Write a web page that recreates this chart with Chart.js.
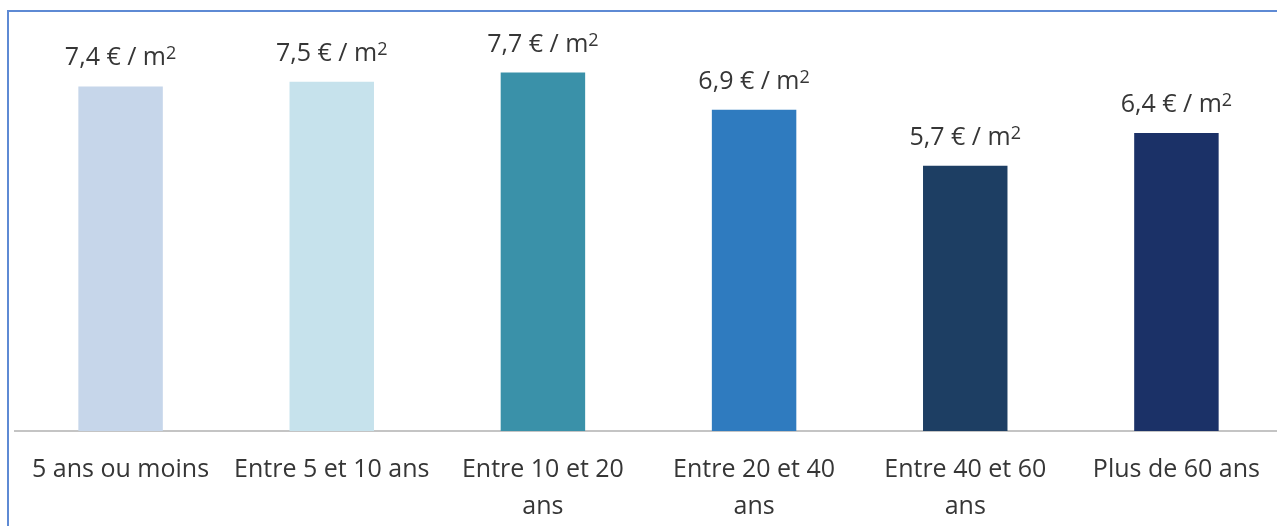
<!DOCTYPE html>
<html lang="fr">
<head>
<meta charset="utf-8">
<script src="https://cdn.jsdelivr.net/npm/chart.js@4"></script>
<style>
    html, body { margin: 0; padding: 0; background: #fff; overflow: hidden; }
    #frame {
        position: absolute;
        left: 7px;
        top: 10px;
        width: 1300px;
        height: 560px;
        border-left: 2px solid #5e8ad4;
        border-top: 2px solid #5e8ad4;
    }
    #wrap {
        position: absolute;
        left: 0;
        top: 0;
        width: 1290px;
        height: 549px;
    }
</style>
</head>
<body>
<div id="frame"></div>
<div id="wrap"><canvas id="graph"></canvas></div>
<script>
// Loyer moyen au m² selon l'ancienneté du bail
const categories = [
    '5 ans ou moins',
    'Entre 5 et 10 ans',
    ['Entre 10 et 20', 'ans'],
    ['Entre 20 et 40', 'ans'],
    ['Entre 40 et 60', 'ans'],
    'Plus de 60 ans'
];
const loyers = [7.4, 7.5, 7.7, 6.9, 5.7, 6.4];
const barColors = ['#c6d6ea', '#c6e2ec', '#3a91a9', '#2f7bbf', '#1d3e63', '#1b3167'];

const fontFamily = '"Open Sans", Lato, sans-serif';
const labelSize = 25;

// écrit "x,x € / m2" au-dessus de chaque barre, le 2 en exposant
const valueLabels = {
    id: 'valueLabels',
    afterDatasetsDraw(chart) {
        const ctx = chart.ctx;
        const meta = chart.getDatasetMeta(0);
        const supSize = Math.round(labelSize * 0.7);
        ctx.save();
        ctx.fillStyle = '#363636';
        ctx.textBaseline = 'alphabetic';
        ctx.textAlign = 'left';
        meta.data.forEach(function(bar, i) {
            const main = loyers[i].toFixed(1).replace('.', ',') + ' € / m';
            ctx.font = labelSize + 'px ' + fontFamily;
            const w1 = ctx.measureText(main).width;
            ctx.font = supSize + 'px ' + fontFamily;
            const w2 = ctx.measureText('2').width;
            const x0 = bar.x - (w1 + w2) / 2;
            const y0 = bar.y - 21;
            ctx.font = labelSize + 'px ' + fontFamily;
            ctx.fillText(main, x0, y0);
            ctx.font = supSize + 'px ' + fontFamily;
            ctx.fillText('2', x0 + w1, y0 - 6);
        });
        ctx.restore();
    }
};

const ctx = document.getElementById('graph').getContext('2d');
new Chart(ctx, {
    type: 'bar',
    data: {
        labels: categories,
        datasets: [{
            data: loyers,
            backgroundColor: barColors,
            borderWidth: 0,
            barPercentage: 0.4,
            categoryPercentage: 1
        }]
    },
    options: {
        responsive: true,
        maintainAspectRatio: false,
        animation: false,
        layout: {
            padding: { left: 15, right: 8, top: 12, bottom: 4 }
        },
        plugins: {
            legend: { display: false },
            tooltip: { enabled: false }
        },
        scales: {
            x: {
                grid: { display: false, drawTicks: false },
                border: { display: true, color: '#c4c4c4', width: 2 },
                ticks: {
                    color: '#363636',
                    font: { family: fontFamily, size: labelSize, lineHeight: '37px' },
                    padding: 20,
                    maxRotation: 0,
                    autoSkip: false
                }
            },
            y: {
                display: false,
                min: 0,
                max: 9
            }
        }
    },
    plugins: [valueLabels]
});
</script>
</body>
</html>
